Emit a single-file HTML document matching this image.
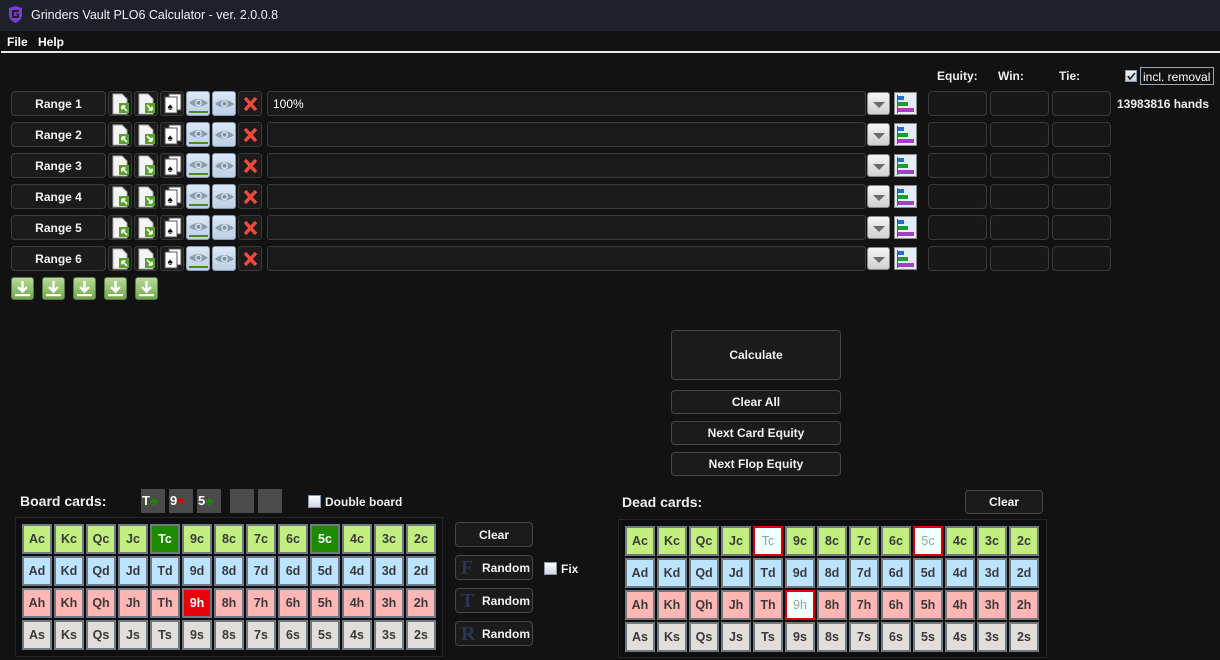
<!DOCTYPE html>
<html><head><meta charset="utf-8">
<style>
*{box-sizing:border-box;margin:0;padding:0}
body{width:1220px;height:660px;background:#121212;position:relative;overflow:hidden;font-family:"Liberation Sans",Arial,sans-serif;color:#fff}
.abs{position:absolute}
.title{left:0;top:0;width:1220px;height:31px;background:#1e2129}
.title span{position:absolute;left:31px;top:8px;font-size:12.5px;color:#f0f0f0}
.menu{left:0;top:31px;width:1220px;height:21px;background:#121212;font-size:12px;font-weight:bold}
.line{left:1px;top:51px;width:1219px;height:2px;background:#e8e8e8}
.btn{position:absolute;background:#1b1b1b;border:1px solid #474747;border-radius:4px;font-size:12px;font-weight:bold;color:#f2f2f2;display:flex;align-items:center;justify-content:center}
.row{position:absolute;left:0;width:1220px;height:25px}
.rb{left:11px;top:0;width:95px;height:25px;border-color:#3e3e3e}
.ic{position:absolute;top:0;width:24px;height:25px;border-radius:3px;background:#1c1c1c;border:1px solid #3a3a3a}
.ic svg{position:absolute;left:0;top:0}
.eye{background:linear-gradient(#dbe8f6,#bdd1e7);border:1px solid #8a9cb0}
.tf{position:absolute;left:267px;top:0;width:599px;height:25px;background:#1a1a1a;border:1px solid #3c3c3c;border-radius:3px;font-size:12px;padding:5px 0 0 5px;color:#fff}
.dd{position:absolute;left:867px;top:1px;width:23px;height:23px;border-radius:3px;background:linear-gradient(#f6f6f6,#cfcfcf);border:1px solid #888}
.dd:after{content:"";position:absolute;left:5px;top:9px;border-left:6px solid transparent;border-right:6px solid transparent;border-top:6px solid #6a6a6a}
.ch{position:absolute;left:894px;top:1px;width:23px;height:23px;background:#e4ecf5;border:1px solid #8a8a8a}
.eb{position:absolute;top:0;width:59px;height:25px;background:#181818;border:1px solid #3a3a3a;border-radius:4px}
.hdr{position:absolute;top:69px;font-size:12px;font-weight:bold;color:#eee}
.dl{position:absolute;top:277px;width:23px;height:23px;border-radius:3px;background:linear-gradient(#b8dc98,#6ea848);border:1px solid #5d7a48}
.grid{position:absolute;display:grid;grid-template-columns:repeat(13,30px);grid-auto-rows:30px;gap:2px}
.grid div{border:2px solid #6f7984;display:flex;align-items:center;justify-content:center;font-size:12.5px;font-weight:bold;color:#3a3a3a}
.c{background:#c2ee80}.d{background:#bde4ff}.h{background:#ffb7b6}.s{background:#e1ddd8}
.grid div.sg{background:#1b8a00;color:#fff}
.grid div.sr{background:#e8000a;color:#fff}
.grid div.dx{background:#f0ffff;border-color:#e00000;color:#a0a0a0;font-weight:normal}
.panel{position:absolute;background:#0e0e0e;border:1px solid #262626}
.slot{position:absolute;top:489px;width:24px;height:24px;background:#4b4b4b;font-size:13px;font-weight:bold;color:#fff;padding:4px 0 0 1px;white-space:nowrap}
.cb{position:absolute;width:13px;height:13px;background:linear-gradient(#fdfdfd,#cfd8e4);border:1px solid #8a98a8}
.lbl{position:absolute;font-size:12px;font-weight:bold;color:#eee}
.rnd{position:absolute;left:455px;width:78px;height:25px;border:1px solid #474747;border-radius:4px;background:#1b1b1b;font-size:12px;font-weight:bold;color:#f2f2f2}
.rnd b{position:absolute;left:5px;top:1px;font-family:"Liberation Serif",serif;font-size:20px;font-weight:bold;color:#2a3552}
.rnd span{position:absolute;left:26px;top:5px}
</style></head><body>

<div class="abs title">
<svg class="abs" style="left:8px;top:6px" width="15" height="17" viewBox="0 0 15 17"><path d="M1 2 L7.5 0 L14 2 L14 9 Q14 14 7.5 17 Q1 14 1 9 Z" fill="#7a3fd0"/><path d="M4 4 L11 4 L11 6 L6 6 L6 10 L9 10 L9 8.5 L7.5 8.5 L7.5 7.5 L11 7.5 L11 12 L4 12 Z" fill="#1e2129"/></svg>
<span>Grinders Vault PLO6 Calculator - ver. 2.0.0.8</span>
</div>
<div class="abs menu"><span class="abs" style="left:7px;top:4px">File</span><span class="abs" style="left:38px;top:4px">Help</span></div>
<div class="abs line"></div>

<div class="hdr" style="left:937px">Equity:</div>
<div class="hdr" style="left:998px">Win:</div>
<div class="hdr" style="left:1059px">Tie:</div>
<div class="cb" style="left:1125px;top:70px;width:12px;height:12px;background:linear-gradient(#f4f6f9,#c7d1de)"><svg width="10" height="10" style="position:absolute;left:0;top:0"><path d="M2 5 L4 8 L9 2" stroke="#222" stroke-width="1.6" fill="none"/></svg></div>
<div class="abs" style="left:1140px;top:67px;width:74px;height:18px;border:1px solid #9aa6b8;font-size:12px;color:#fff;padding:2px 0 0 2px">incl. removal</div>
<div class="lbl" style="left:1117px;top:97px">13983816 hands</div>

<!-- rows -->
<div class="row" style="top:91px">
<div class="btn rb">Range 1</div>
<div class="ic" style="left:108px"><svg width="24" height="25"><path d="M4 2h9l5 5v15H4z" fill="#f4f4f4" stroke="#aaa"/><rect x="10" y="11" width="10" height="10" fill="#5aa02c"/><path d="M18 19l-5-5m0 0v3.5m0-3.5h3.5" stroke="#fff" stroke-width="1.6" fill="none"/></svg></div>
<div class="ic" style="left:134px"><svg width="24" height="25"><path d="M4 2h9l5 5v15H4z" fill="#f4f4f4" stroke="#aaa"/><rect x="10" y="11" width="10" height="10" fill="#5aa02c"/><path d="M12 13l5 5m0 0v-3.5m0 3.5h-3.5" stroke="#fff" stroke-width="1.6" fill="none"/></svg></div>
<div class="ic" style="left:160px"><svg width="24" height="25"><rect x="8" y="2" width="12" height="16" fill="#fff" stroke="#555"/><rect x="4" y="5" width="12" height="16" fill="#fff" stroke="#555"/><text x="6.5" y="18" font-size="10" fill="#111">♠</text></svg></div>
<div class="ic eye" style="left:186px"><svg width="24" height="25"><path d="M2 11Q11 3 21 11Q11 18 2 11Z" fill="#8b9cab"/><circle cx="11.5" cy="10.8" r="3.4" fill="#dbe8f6"/><circle cx="11.5" cy="10.8" r="2" fill="#7f909e"/><rect x="2" y="19" width="19" height="2" fill="#4c8a1c"/></svg></div>
<div class="ic eye" style="left:212px"><svg width="24" height="25"><path d="M2 12Q11 4 21 12Q11 19 2 12Z" fill="#8b9cab"/><circle cx="11.5" cy="11.8" r="3.4" fill="#dbe8f6"/><circle cx="11.5" cy="11.8" r="2" fill="#7f909e"/></svg></div>
<div class="ic" style="left:238px"><svg width="24" height="25"><path d="M6 6L17 18M17 6L6 18" stroke="#f04a3a" stroke-width="3.5"/></svg></div>
<div class="tf">100%</div><div class="dd"></div>
<div class="ch"><svg width="21" height="21"><rect x="3" y="3" width="6" height="4" fill="#1c6fd8"/><rect x="3" y="9" width="10" height="4" fill="#16a02a"/><rect x="3" y="15" width="16" height="4" fill="#a040c8"/><rect x="2" y="2" width="1" height="18" fill="#555"/></svg></div>
<div class="eb" style="left:928px"></div><div class="eb" style="left:990px"></div><div class="eb" style="left:1052px"></div>
</div>

<div class="row" style="top:122px">
<div class="btn rb">Range 2</div>
<div class="ic" style="left:108px"><svg width="24" height="25"><path d="M4 2h9l5 5v15H4z" fill="#f4f4f4" stroke="#aaa"/><rect x="10" y="11" width="10" height="10" fill="#5aa02c"/><path d="M18 19l-5-5m0 0v3.5m0-3.5h3.5" stroke="#fff" stroke-width="1.6" fill="none"/></svg></div>
<div class="ic" style="left:134px"><svg width="24" height="25"><path d="M4 2h9l5 5v15H4z" fill="#f4f4f4" stroke="#aaa"/><rect x="10" y="11" width="10" height="10" fill="#5aa02c"/><path d="M12 13l5 5m0 0v-3.5m0 3.5h-3.5" stroke="#fff" stroke-width="1.6" fill="none"/></svg></div>
<div class="ic" style="left:160px"><svg width="24" height="25"><rect x="8" y="2" width="12" height="16" fill="#fff" stroke="#555"/><rect x="4" y="5" width="12" height="16" fill="#fff" stroke="#555"/><text x="6.5" y="18" font-size="10" fill="#111">♠</text></svg></div>
<div class="ic eye" style="left:186px"><svg width="24" height="25"><path d="M2 11Q11 3 21 11Q11 18 2 11Z" fill="#8b9cab"/><circle cx="11.5" cy="10.8" r="3.4" fill="#dbe8f6"/><circle cx="11.5" cy="10.8" r="2" fill="#7f909e"/><rect x="2" y="19" width="19" height="2" fill="#4c8a1c"/></svg></div>
<div class="ic eye" style="left:212px"><svg width="24" height="25"><path d="M2 12Q11 4 21 12Q11 19 2 12Z" fill="#8b9cab"/><circle cx="11.5" cy="11.8" r="3.4" fill="#dbe8f6"/><circle cx="11.5" cy="11.8" r="2" fill="#7f909e"/></svg></div>
<div class="ic" style="left:238px"><svg width="24" height="25"><path d="M6 6L17 18M17 6L6 18" stroke="#f04a3a" stroke-width="3.5"/></svg></div>
<div class="tf"></div><div class="dd"></div>
<div class="ch"><svg width="21" height="21"><rect x="3" y="3" width="6" height="4" fill="#1c6fd8"/><rect x="3" y="9" width="10" height="4" fill="#16a02a"/><rect x="3" y="15" width="16" height="4" fill="#a040c8"/><rect x="2" y="2" width="1" height="18" fill="#555"/></svg></div>
<div class="eb" style="left:928px"></div><div class="eb" style="left:990px"></div><div class="eb" style="left:1052px"></div>
</div>

<div class="row" style="top:153px">
<div class="btn rb">Range 3</div>
<div class="ic" style="left:108px"><svg width="24" height="25"><path d="M4 2h9l5 5v15H4z" fill="#f4f4f4" stroke="#aaa"/><rect x="10" y="11" width="10" height="10" fill="#5aa02c"/><path d="M18 19l-5-5m0 0v3.5m0-3.5h3.5" stroke="#fff" stroke-width="1.6" fill="none"/></svg></div>
<div class="ic" style="left:134px"><svg width="24" height="25"><path d="M4 2h9l5 5v15H4z" fill="#f4f4f4" stroke="#aaa"/><rect x="10" y="11" width="10" height="10" fill="#5aa02c"/><path d="M12 13l5 5m0 0v-3.5m0 3.5h-3.5" stroke="#fff" stroke-width="1.6" fill="none"/></svg></div>
<div class="ic" style="left:160px"><svg width="24" height="25"><rect x="8" y="2" width="12" height="16" fill="#fff" stroke="#555"/><rect x="4" y="5" width="12" height="16" fill="#fff" stroke="#555"/><text x="6.5" y="18" font-size="10" fill="#111">♠</text></svg></div>
<div class="ic eye" style="left:186px"><svg width="24" height="25"><path d="M2 11Q11 3 21 11Q11 18 2 11Z" fill="#8b9cab"/><circle cx="11.5" cy="10.8" r="3.4" fill="#dbe8f6"/><circle cx="11.5" cy="10.8" r="2" fill="#7f909e"/><rect x="2" y="19" width="19" height="2" fill="#4c8a1c"/></svg></div>
<div class="ic eye" style="left:212px"><svg width="24" height="25"><path d="M2 12Q11 4 21 12Q11 19 2 12Z" fill="#8b9cab"/><circle cx="11.5" cy="11.8" r="3.4" fill="#dbe8f6"/><circle cx="11.5" cy="11.8" r="2" fill="#7f909e"/></svg></div>
<div class="ic" style="left:238px"><svg width="24" height="25"><path d="M6 6L17 18M17 6L6 18" stroke="#f04a3a" stroke-width="3.5"/></svg></div>
<div class="tf"></div><div class="dd"></div>
<div class="ch"><svg width="21" height="21"><rect x="3" y="3" width="6" height="4" fill="#1c6fd8"/><rect x="3" y="9" width="10" height="4" fill="#16a02a"/><rect x="3" y="15" width="16" height="4" fill="#a040c8"/><rect x="2" y="2" width="1" height="18" fill="#555"/></svg></div>
<div class="eb" style="left:928px"></div><div class="eb" style="left:990px"></div><div class="eb" style="left:1052px"></div>
</div>

<div class="row" style="top:184px">
<div class="btn rb">Range 4</div>
<div class="ic" style="left:108px"><svg width="24" height="25"><path d="M4 2h9l5 5v15H4z" fill="#f4f4f4" stroke="#aaa"/><rect x="10" y="11" width="10" height="10" fill="#5aa02c"/><path d="M18 19l-5-5m0 0v3.5m0-3.5h3.5" stroke="#fff" stroke-width="1.6" fill="none"/></svg></div>
<div class="ic" style="left:134px"><svg width="24" height="25"><path d="M4 2h9l5 5v15H4z" fill="#f4f4f4" stroke="#aaa"/><rect x="10" y="11" width="10" height="10" fill="#5aa02c"/><path d="M12 13l5 5m0 0v-3.5m0 3.5h-3.5" stroke="#fff" stroke-width="1.6" fill="none"/></svg></div>
<div class="ic" style="left:160px"><svg width="24" height="25"><rect x="8" y="2" width="12" height="16" fill="#fff" stroke="#555"/><rect x="4" y="5" width="12" height="16" fill="#fff" stroke="#555"/><text x="6.5" y="18" font-size="10" fill="#111">♠</text></svg></div>
<div class="ic eye" style="left:186px"><svg width="24" height="25"><path d="M2 11Q11 3 21 11Q11 18 2 11Z" fill="#8b9cab"/><circle cx="11.5" cy="10.8" r="3.4" fill="#dbe8f6"/><circle cx="11.5" cy="10.8" r="2" fill="#7f909e"/><rect x="2" y="19" width="19" height="2" fill="#4c8a1c"/></svg></div>
<div class="ic eye" style="left:212px"><svg width="24" height="25"><path d="M2 12Q11 4 21 12Q11 19 2 12Z" fill="#8b9cab"/><circle cx="11.5" cy="11.8" r="3.4" fill="#dbe8f6"/><circle cx="11.5" cy="11.8" r="2" fill="#7f909e"/></svg></div>
<div class="ic" style="left:238px"><svg width="24" height="25"><path d="M6 6L17 18M17 6L6 18" stroke="#f04a3a" stroke-width="3.5"/></svg></div>
<div class="tf"></div><div class="dd"></div>
<div class="ch"><svg width="21" height="21"><rect x="3" y="3" width="6" height="4" fill="#1c6fd8"/><rect x="3" y="9" width="10" height="4" fill="#16a02a"/><rect x="3" y="15" width="16" height="4" fill="#a040c8"/><rect x="2" y="2" width="1" height="18" fill="#555"/></svg></div>
<div class="eb" style="left:928px"></div><div class="eb" style="left:990px"></div><div class="eb" style="left:1052px"></div>
</div>

<div class="row" style="top:215px">
<div class="btn rb">Range 5</div>
<div class="ic" style="left:108px"><svg width="24" height="25"><path d="M4 2h9l5 5v15H4z" fill="#f4f4f4" stroke="#aaa"/><rect x="10" y="11" width="10" height="10" fill="#5aa02c"/><path d="M18 19l-5-5m0 0v3.5m0-3.5h3.5" stroke="#fff" stroke-width="1.6" fill="none"/></svg></div>
<div class="ic" style="left:134px"><svg width="24" height="25"><path d="M4 2h9l5 5v15H4z" fill="#f4f4f4" stroke="#aaa"/><rect x="10" y="11" width="10" height="10" fill="#5aa02c"/><path d="M12 13l5 5m0 0v-3.5m0 3.5h-3.5" stroke="#fff" stroke-width="1.6" fill="none"/></svg></div>
<div class="ic" style="left:160px"><svg width="24" height="25"><rect x="8" y="2" width="12" height="16" fill="#fff" stroke="#555"/><rect x="4" y="5" width="12" height="16" fill="#fff" stroke="#555"/><text x="6.5" y="18" font-size="10" fill="#111">♠</text></svg></div>
<div class="ic eye" style="left:186px"><svg width="24" height="25"><path d="M2 11Q11 3 21 11Q11 18 2 11Z" fill="#8b9cab"/><circle cx="11.5" cy="10.8" r="3.4" fill="#dbe8f6"/><circle cx="11.5" cy="10.8" r="2" fill="#7f909e"/><rect x="2" y="19" width="19" height="2" fill="#4c8a1c"/></svg></div>
<div class="ic eye" style="left:212px"><svg width="24" height="25"><path d="M2 12Q11 4 21 12Q11 19 2 12Z" fill="#8b9cab"/><circle cx="11.5" cy="11.8" r="3.4" fill="#dbe8f6"/><circle cx="11.5" cy="11.8" r="2" fill="#7f909e"/></svg></div>
<div class="ic" style="left:238px"><svg width="24" height="25"><path d="M6 6L17 18M17 6L6 18" stroke="#f04a3a" stroke-width="3.5"/></svg></div>
<div class="tf"></div><div class="dd"></div>
<div class="ch"><svg width="21" height="21"><rect x="3" y="3" width="6" height="4" fill="#1c6fd8"/><rect x="3" y="9" width="10" height="4" fill="#16a02a"/><rect x="3" y="15" width="16" height="4" fill="#a040c8"/><rect x="2" y="2" width="1" height="18" fill="#555"/></svg></div>
<div class="eb" style="left:928px"></div><div class="eb" style="left:990px"></div><div class="eb" style="left:1052px"></div>
</div>

<div class="row" style="top:246px">
<div class="btn rb">Range 6</div>
<div class="ic" style="left:108px"><svg width="24" height="25"><path d="M4 2h9l5 5v15H4z" fill="#f4f4f4" stroke="#aaa"/><rect x="10" y="11" width="10" height="10" fill="#5aa02c"/><path d="M18 19l-5-5m0 0v3.5m0-3.5h3.5" stroke="#fff" stroke-width="1.6" fill="none"/></svg></div>
<div class="ic" style="left:134px"><svg width="24" height="25"><path d="M4 2h9l5 5v15H4z" fill="#f4f4f4" stroke="#aaa"/><rect x="10" y="11" width="10" height="10" fill="#5aa02c"/><path d="M12 13l5 5m0 0v-3.5m0 3.5h-3.5" stroke="#fff" stroke-width="1.6" fill="none"/></svg></div>
<div class="ic" style="left:160px"><svg width="24" height="25"><rect x="8" y="2" width="12" height="16" fill="#fff" stroke="#555"/><rect x="4" y="5" width="12" height="16" fill="#fff" stroke="#555"/><text x="6.5" y="18" font-size="10" fill="#111">♠</text></svg></div>
<div class="ic eye" style="left:186px"><svg width="24" height="25"><path d="M2 11Q11 3 21 11Q11 18 2 11Z" fill="#8b9cab"/><circle cx="11.5" cy="10.8" r="3.4" fill="#dbe8f6"/><circle cx="11.5" cy="10.8" r="2" fill="#7f909e"/><rect x="2" y="19" width="19" height="2" fill="#4c8a1c"/></svg></div>
<div class="ic eye" style="left:212px"><svg width="24" height="25"><path d="M2 12Q11 4 21 12Q11 19 2 12Z" fill="#8b9cab"/><circle cx="11.5" cy="11.8" r="3.4" fill="#dbe8f6"/><circle cx="11.5" cy="11.8" r="2" fill="#7f909e"/></svg></div>
<div class="ic" style="left:238px"><svg width="24" height="25"><path d="M6 6L17 18M17 6L6 18" stroke="#f04a3a" stroke-width="3.5"/></svg></div>
<div class="tf"></div><div class="dd"></div>
<div class="ch"><svg width="21" height="21"><rect x="3" y="3" width="6" height="4" fill="#1c6fd8"/><rect x="3" y="9" width="10" height="4" fill="#16a02a"/><rect x="3" y="15" width="16" height="4" fill="#a040c8"/><rect x="2" y="2" width="1" height="18" fill="#555"/></svg></div>
<div class="eb" style="left:928px"></div><div class="eb" style="left:990px"></div><div class="eb" style="left:1052px"></div>
</div>

<!-- download buttons -->
<div class="dl" style="left:11px"><svg width="21" height="21"><path d="M10.5 3v10M6 9l4.5 4.5 4.5-4.5" stroke="#fff" stroke-width="2.4" fill="none"/><rect x="3" y="16" width="15" height="2.2" fill="#fff"/></svg></div>
<div class="dl" style="left:42px"><svg width="21" height="21"><path d="M10.5 3v10M6 9l4.5 4.5 4.5-4.5" stroke="#fff" stroke-width="2.4" fill="none"/><rect x="3" y="16" width="15" height="2.2" fill="#fff"/></svg></div>
<div class="dl" style="left:73px"><svg width="21" height="21"><path d="M10.5 3v10M6 9l4.5 4.5 4.5-4.5" stroke="#fff" stroke-width="2.4" fill="none"/><rect x="3" y="16" width="15" height="2.2" fill="#fff"/></svg></div>
<div class="dl" style="left:104px"><svg width="21" height="21"><path d="M10.5 3v10M6 9l4.5 4.5 4.5-4.5" stroke="#fff" stroke-width="2.4" fill="none"/><rect x="3" y="16" width="15" height="2.2" fill="#fff"/></svg></div>
<div class="dl" style="left:135px"><svg width="21" height="21"><path d="M10.5 3v10M6 9l4.5 4.5 4.5-4.5" stroke="#fff" stroke-width="2.4" fill="none"/><rect x="3" y="16" width="15" height="2.2" fill="#fff"/></svg></div>

<!-- center buttons -->
<div class="btn" style="left:671px;top:330px;width:170px;height:50px">Calculate</div>
<div class="btn" style="left:671px;top:390px;width:170px;height:24px">Clear All</div>
<div class="btn" style="left:671px;top:421px;width:170px;height:24px">Next Card Equity</div>
<div class="btn" style="left:671px;top:452px;width:170px;height:24px">Next Flop Equity</div>

<!-- board -->
<div class="lbl" style="left:20px;top:493px;font-size:14px">Board cards:</div>
<div class="slot" style="left:141px">T<span style="color:#1a8a00;font-size:12px">♣</span></div>
<div class="slot" style="left:169px">9<span style="color:#e80000;font-size:12px">♥</span></div>
<div class="slot" style="left:197px">5<span style="color:#1a8a00;font-size:12px">♣</span></div>
<div class="slot" style="left:230px"></div>
<div class="slot" style="left:258px"></div>
<div class="cb" style="left:308px;top:495px"></div>
<div class="lbl" style="left:325px;top:495px">Double board</div>

<div class="panel" style="left:15px;top:517px;width:428px;height:140px"></div>
<div class="grid" style="left:22px;top:524px">
<div class="c">Ac</div><div class="c">Kc</div><div class="c">Qc</div><div class="c">Jc</div><div class="c sg">Tc</div><div class="c">9c</div><div class="c">8c</div><div class="c">7c</div><div class="c">6c</div><div class="c sg">5c</div><div class="c">4c</div><div class="c">3c</div><div class="c">2c</div>
<div class="d">Ad</div><div class="d">Kd</div><div class="d">Qd</div><div class="d">Jd</div><div class="d">Td</div><div class="d">9d</div><div class="d">8d</div><div class="d">7d</div><div class="d">6d</div><div class="d">5d</div><div class="d">4d</div><div class="d">3d</div><div class="d">2d</div>
<div class="h">Ah</div><div class="h">Kh</div><div class="h">Qh</div><div class="h">Jh</div><div class="h">Th</div><div class="h sr">9h</div><div class="h">8h</div><div class="h">7h</div><div class="h">6h</div><div class="h">5h</div><div class="h">4h</div><div class="h">3h</div><div class="h">2h</div>
<div class="s">As</div><div class="s">Ks</div><div class="s">Qs</div><div class="s">Js</div><div class="s">Ts</div><div class="s">9s</div><div class="s">8s</div><div class="s">7s</div><div class="s">6s</div><div class="s">5s</div><div class="s">4s</div><div class="s">3s</div><div class="s">2s</div>
</div>

<div class="btn" style="left:455px;top:522px;width:78px;height:25px">Clear</div>
<div class="rnd" style="top:555px"><b>F</b><span>Random</span></div>
<div class="rnd" style="top:588px"><b>T</b><span>Random</span></div>
<div class="rnd" style="top:621px"><b>R</b><span>Random</span></div>
<div class="cb" style="left:544px;top:562px"></div>
<div class="lbl" style="left:561px;top:562px">Fix</div>

<!-- dead -->
<div class="lbl" style="left:622px;top:494px;font-size:14px">Dead cards:</div>
<div class="btn" style="left:965px;top:490px;width:78px;height:24px">Clear</div>
<div class="panel" style="left:618px;top:519px;width:429px;height:139px"></div>
<div class="grid" style="left:625px;top:526px">
<div class="c">Ac</div><div class="c">Kc</div><div class="c">Qc</div><div class="c">Jc</div><div class="c dx">Tc</div><div class="c">9c</div><div class="c">8c</div><div class="c">7c</div><div class="c">6c</div><div class="c dx">5c</div><div class="c">4c</div><div class="c">3c</div><div class="c">2c</div>
<div class="d">Ad</div><div class="d">Kd</div><div class="d">Qd</div><div class="d">Jd</div><div class="d">Td</div><div class="d">9d</div><div class="d">8d</div><div class="d">7d</div><div class="d">6d</div><div class="d">5d</div><div class="d">4d</div><div class="d">3d</div><div class="d">2d</div>
<div class="h">Ah</div><div class="h">Kh</div><div class="h">Qh</div><div class="h">Jh</div><div class="h">Th</div><div class="h dx">9h</div><div class="h">8h</div><div class="h">7h</div><div class="h">6h</div><div class="h">5h</div><div class="h">4h</div><div class="h">3h</div><div class="h">2h</div>
<div class="s">As</div><div class="s">Ks</div><div class="s">Qs</div><div class="s">Js</div><div class="s">Ts</div><div class="s">9s</div><div class="s">8s</div><div class="s">7s</div><div class="s">6s</div><div class="s">5s</div><div class="s">4s</div><div class="s">3s</div><div class="s">2s</div>
</div>

</body></html>
